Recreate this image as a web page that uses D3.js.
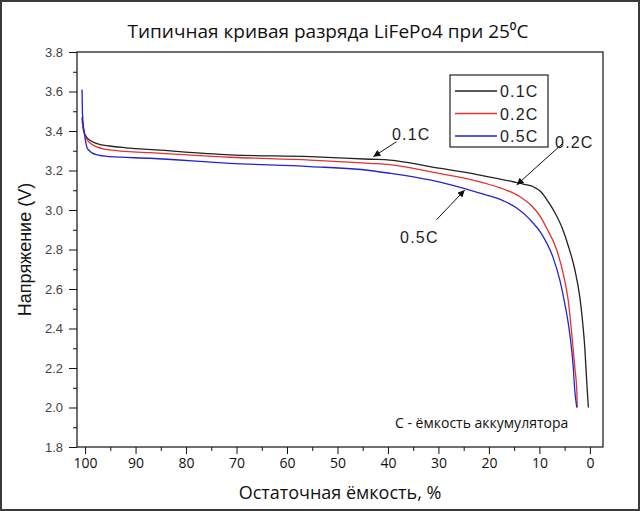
<!DOCTYPE html>
<html><head><meta charset="utf-8">
<script src="https://cdn.jsdelivr.net/npm/d3@7/dist/d3.min.js"></script>
<style>body{margin:0;background:#fff}svg{display:block}</style>
</head><body>
<svg id="chart" width="640" height="511"></svg>
<script>
// ---- data (remaining capacity %, voltage V) ----
const series = ["0.1C", "0.2C", "0.5C"];
const cap01 = [100.6,100.3,99.5,97.8,95.2,91.9,85.9,71.3,55.4,43.6,39.6,31.7,21.8,15.2,13.0,11.0,9.8,8.6,7.0,5.5,4.3,3.0,2.0,1.5,1.0,0.6,0.3];
const volt01 = [3.47,3.40,3.363,3.337,3.324,3.315,3.304,3.279,3.27,3.257,3.253,3.22,3.177,3.143,3.13,3.115,3.095,3.055,2.99,2.91,2.82,2.70,2.56,2.45,2.30,2.12,2.0];
const cap02 = [100.6,99.8,98.5,95.2,87.1,71.3,55.4,43.6,39.6,31.7,21.8,17.0,14.0,11.5,9.9,8.6,6.6,5.3,4.3,3.6,3.0,2.6,2.5];
const volt02 = [3.447,3.363,3.33,3.304,3.29,3.267,3.253,3.236,3.23,3.194,3.143,3.105,3.07,3.02,2.97,2.91,2.80,2.68,2.544,2.376,2.207,2.09,2.0];
const cap05 = [100.6,100.5,100.1,99.5,97.8,95.2,87.1,71.3,55.4,43.6,39.6,31.7,21.8,17.0,14.5,12.0,9.6,7.3,5.9,5.0,4.0,3.3,3.0,2.6];
const volt05 = [3.61,3.48,3.38,3.31,3.28,3.27,3.262,3.236,3.22,3.20,3.186,3.152,3.085,3.045,3.01,2.955,2.88,2.76,2.64,2.53,2.376,2.207,2.09,2.0];
const xTicks = [100,90,80,70,60,50,40,30,20,10,0];
const yTicks = [1.8,2.0,2.2,2.4,2.6,2.8,3.0,3.2,3.4,3.6,3.8];
// annotation labels, text anchors and arrows in data units
const annLabels = ["0.1C", "0.2C", "0.5C"];
const annText = [[39.2,3.354],[6.9,3.314],[37.6,2.833]];
const annArrow = [[38.3,3.346,42.9,3.27],[5.3,3.339,14.5,3.127],[30.4,2.95,24.8,3.101]];
const title = "Типичная кривая разряда LiFePo4 при 25⁰C";
const xTitle = "Остаточная ёмкость, %";
const yTitle = "Напряжение (V)";
const note = "С - ёмкость аккумулятора";

const colors = ["#222222", "#e5302f", "#2323d2"];
const svg = d3.select("#chart");
const L = 77, R = 603, T = 52, B = 447;
const x = d3.scaleLinear().domain([101.6, -2.6]).range([L, R]);
const y = d3.scaleLinear().domain([1.8, 3.8]).range([B, T]);

svg.append("rect").attr("x",1).attr("y",1).attr("width",638).attr("height",509)
  .attr("fill","#fff").attr("stroke","#3a3a3a").attr("stroke-width",2);

// axes
const yMinor = d3.range(1.9, 3.8, 0.2);
svg.append("g").attr("transform",`translate(${L},0)`)
  .call(d3.axisLeft(y).tickValues(yMinor).tickSize(4).tickFormat(""))
  .call(g=>g.select(".domain").remove())
  .call(g=>g.selectAll("line").attr("stroke","#111"));
svg.append("g").attr("transform",`translate(${L},0)`)
  .call(d3.axisLeft(y).tickValues(yTicks).tickSize(8).tickPadding(6).tickFormat(d3.format(".1f")))
  .call(g=>g.select(".domain").remove())
  .call(g=>g.selectAll("line").attr("stroke","#111"))
  .call(g=>g.selectAll("text").attr("font-family","Liberation Sans, Arial, sans-serif").attr("font-size",13).attr("fill","#444"));

const xMinor = d3.range(5, 100, 10);
svg.append("g").attr("transform",`translate(0,${B})`)
  .call(d3.axisBottom(x).tickValues(xMinor).tickSize(4).tickFormat(""))
  .call(g=>g.select(".domain").remove())
  .call(g=>g.selectAll("line").attr("stroke","#111"));
svg.append("g").attr("transform",`translate(0,${B})`)
  .call(d3.axisBottom(x).tickValues(xTicks).tickSize(7).tickPadding(4).tickFormat(d3.format("d")))
  .call(g=>g.select(".domain").remove())
  .call(g=>g.selectAll("line").attr("stroke","#111"))
  .call(g=>g.selectAll("text").attr("font-family","Open Sans, sans-serif").attr("font-size",14).attr("fill","#111"));

svg.append("rect").attr("x",L).attr("y",T).attr("width",R-L).attr("height",B-T)
  .attr("fill","none").attr("stroke","#111").attr("stroke-width",1.2);

// curves
const caps = [cap01, cap02, cap05], volts = [volt01, volt02, volt05];
const line = d3.line().x(d=>x(d[0])).y(d=>y(d[1])).curve(d3.curveMonotoneX);
series.forEach((s,i)=>{
  const pts = caps[i].map((c,j)=>[c, volts[i][j]]);
  svg.append("path").datum(pts).attr("d", line).attr("fill","none")
    .attr("stroke", colors[i]).attr("stroke-width",1.3);
});

// legend
const lg = svg.append("g");
lg.append("rect").attr("x",450).attr("y",75).attr("width",98).attr("height",72)
  .attr("fill","#fff").attr("stroke","#222").attr("stroke-width",1.2);
series.forEach((s,i)=>{
  const yy = 91 + i*22.5;
  lg.append("line").attr("x1",455).attr("x2",497).attr("y1",yy).attr("y2",yy)
    .attr("stroke",colors[i]).attr("stroke-width",1.3);
  lg.append("text").attr("x",500).attr("y",yy+6).text(s)
    .attr("font-family","Liberation Sans, Arial, sans-serif").attr("font-size",16).attr("fill","#222")
    .attr("letter-spacing",1.2);
});

// annotations
const defs = svg.append("defs");
defs.append("marker").attr("id","ah").attr("viewBox","0 0 10 10").attr("refX",10).attr("refY",5)
  .attr("markerWidth",9).attr("markerHeight",7).attr("markerUnits","userSpaceOnUse").attr("orient","auto")
  .append("path").attr("d","M0,0L10,5L0,10z").attr("fill","#111");
annLabels.forEach((t,i)=>{
  svg.append("line").attr("x1",x(annArrow[i][0])).attr("y1",y(annArrow[i][1]))
    .attr("x2",x(annArrow[i][2])).attr("y2",y(annArrow[i][3]))
    .attr("stroke","#111").attr("stroke-width",1).attr("marker-end","url(#ah)");
  svg.append("text").attr("x",x(annText[i][0])).attr("y",y(annText[i][1])).text(t)
    .attr("font-family","Liberation Sans, Arial, sans-serif").attr("font-size",16).attr("fill","#222")
    .attr("letter-spacing",1.2);
});

svg.append("text").attr("x",x(38.6)).attr("y",y(1.896)).text(note)
  .attr("font-family","Open Sans, sans-serif").attr("font-size",14).attr("fill","#111");

// titles
svg.append("text").attr("x",328).attr("y",38).attr("text-anchor","middle").text(title)
  .attr("font-family","Open Sans, sans-serif").attr("font-size",19).attr("fill","#111");
svg.append("text").attr("x",340).attr("y",499).attr("text-anchor","middle").text(xTitle)
  .attr("font-family","Open Sans, sans-serif").attr("font-size",18).attr("fill","#111");
svg.append("text").attr("transform",`translate(31,${(T+B)/2}) rotate(-90)`).attr("text-anchor","middle").text(yTitle)
  .attr("font-family","Liberation Sans, Arial, sans-serif").attr("font-size",18).attr("fill","#111");
</script>
</body></html>
